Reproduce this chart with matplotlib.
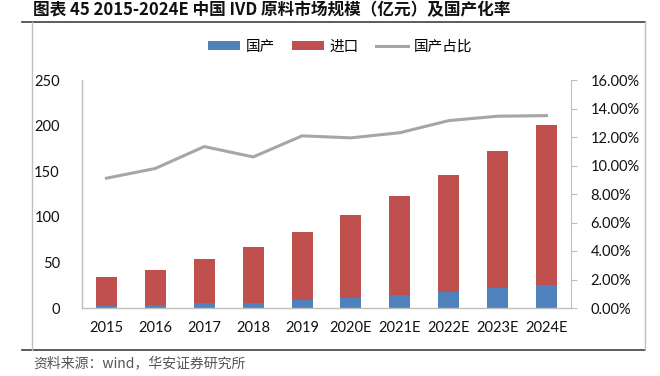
import matplotlib
matplotlib.use('Agg')
import matplotlib.pyplot as plt
from matplotlib.lines import Line2D
from matplotlib.ticker import FuncFormatter

plt.rcParams['font.family'] = ['Lato', 'Noto Sans CJK SC', 'DejaVu Sans']

# Data (亿元 / %)
years = ['2015', '2016', '2017', '2018', '2019', '2020E', '2021E', '2022E', '2023E', '2024E']
domestic = [2.0, 3.0, 5.0, 6.0, 9.0, 11.0, 14.0, 18.0, 21.5, 25.5]
imported = [31.6, 38.6, 48.6, 60.8, 74.6, 90.8, 108.6, 127.6, 150.4, 175.2]
domestic_share = [9.11, 9.79, 11.33, 10.60, 12.08, 11.94, 12.30, 13.15, 13.46, 13.50]

c_blue = '#4F81BD'
c_red = '#C0504D'
c_grey = '#A6A6A6'
W, H = 660, 376
cjk = ['Noto Sans CJK SC', 'DejaVu Sans']

fig = plt.figure(figsize=(W / 100, H / 100), dpi=100)

# title, frame lines, source
fig.text(33 / W, 1 - 10 / H, '图表 45 2015-2024E 中国 IVD 原料市场规模（亿元）及国产化率',
         fontsize=12, fontweight='bold', family=cjk,
         va='center', ha='left', color='#111111')
fig.add_artist(Line2D([22 / W, 645 / W], [1 - 22 / H, 1 - 22 / H], color='#404040', lw=1.2))
fig.add_artist(Line2D([22 / W, 645 / W], [1 - 350 / H, 1 - 350 / H], color='#404040', lw=1.2))
fig.add_artist(Line2D([32 / W, 32 / W], [1 - 22 / H, 1 - 350 / H], color='#BFBFBF', lw=1))
fig.add_artist(Line2D([645 / W, 645 / W], [1 - 22 / H, 1 - 350 / H], color='#BFBFBF', lw=1))
fig.text(33 / W, 1 - 363 / H, '资料来源：wind，华安证券研究所', fontsize=10,
         family=cjk, color='#555555', va='center', ha='left')

ax = fig.add_axes([82 / W, 1 - 308 / H, 489 / W, 228 / H])
x = range(len(years))
bw = 0.43
b1 = ax.bar(x, domestic, bw, color=c_blue, label='国产', zorder=2)
b2 = ax.bar(x, imported, bw, bottom=domestic, color=c_red, label='进口', zorder=2)
ax.set_ylim(0, 250)
ax.set_yticks(range(0, 251, 50))
ax.set_xlim(-0.5, len(years) - 0.5)
ax.set_xticks(list(x))
ax.set_xticklabels(years)
for s in ['top', 'right']:
    ax.spines[s].set_visible(False)
for s in ['left', 'bottom']:
    ax.spines[s].set_color('#BFBFBF')
    ax.spines[s].set_linewidth(1)
ax.tick_params(axis='both', length=0, labelsize=10.5, colors='#111111')
ax.tick_params(axis='y', pad=16)
ax.tick_params(axis='x', pad=9)

ax2 = ax.twinx()
l1, = ax2.plot(x, domestic_share, color=c_grey, lw=2.2, label='国产占比', zorder=3)
ax2.set_ylim(0, 16)
ax2.set_yticks(range(0, 17, 2))
ax2.yaxis.set_major_formatter(FuncFormatter(lambda v, p: '%.2f%%' % v))
for s in ['top', 'left', 'bottom']:
    ax2.spines[s].set_visible(False)
ax2.spines['right'].set_color('#BFBFBF')
ax2.tick_params(axis='y', length=4, color='#BFBFBF', labelsize=10.5, colors='#111111', pad=10)
ax2.tick_params(axis='y', color='#BFBFBF')

fig.legend([b1, b2, l1], ['国产', '进口', '国产占比'], loc='center',
           bbox_to_anchor=(340 / W, 1 - 47 / H), ncol=3, frameon=False,
           prop={'family': cjk, 'size': 10.5},
           handlelength=2.2, handleheight=0.55, columnspacing=1.2, handletextpad=0.35)

fig.savefig('out.png', dpi=100)
